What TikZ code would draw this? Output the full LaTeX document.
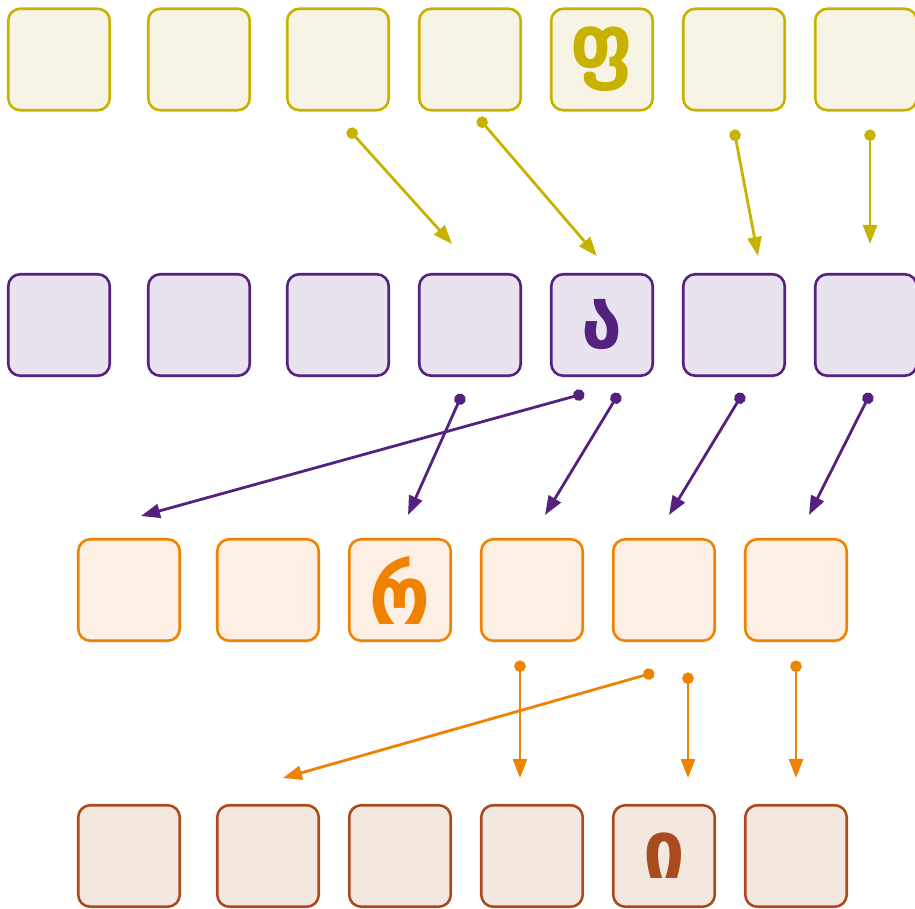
\documentclass[tikz,border=0pt]{standalone}
\usepackage{fontspec}
\newfontfamily\geofont{DejaVu Sans Condensed}
\usetikzlibrary{arrows.meta}

\definecolor{ochre}{RGB}{200,178,0}
\definecolor{ochrefill}{RGB}{247,243,229}
\definecolor{plum}{RGB}{85,33,127}
\definecolor{plumfill}{RGB}{233,227,240}
\definecolor{tangerine}{RGB}{239,130,0}
\definecolor{tangerinefill}{RGB}{253,239,227}
\definecolor{rust}{RGB}{168,76,32}
\definecolor{rustfill}{RGB}{242,232,224}

\begin{document}
\begin{tikzpicture}[x=1pt,y=-1pt,
  cell/.style={draw, line width=2.6pt, rounded corners=12pt, minimum size=101.5pt,
    inner sep=0pt},
  glyph/.style={font=\geofont\bfseries\fontsize{82}{82}\selectfont},
  ycell/.style={cell, draw=ochre, fill=ochrefill},
  pcell/.style={cell, draw=plum, fill=plumfill},
  ocell/.style={cell, draw=tangerine, fill=tangerinefill},
  rcell/.style={cell, draw=rust, fill=rustfill},
  link/.style={line width=2.8pt, shorten <=-5.5pt,
    {Circle[length=11.5pt]}-{Triangle[length=19pt,width=14pt]}},
]

  \useasboundingbox (0,0) rectangle (915,909);

  % first row
  \foreach \x [count=\i] in {59,199,338,470,602,734,866}
    \node[ycell] (y\i) at (\x,59.5) {};
  \node[glyph, text=ochre] at (y5) {ფ};

  % second row
  \foreach \x [count=\i] in {59,199,338,470,602,734,866}
    \node[pcell] (p\i) at (\x,325) {};
  \node[glyph, text=plum] at (p5) {ა};

  % third row
  \foreach \x [count=\i] in {129,268,400,532,664,796}
    \node[ocell] (o\i) at (\x,590) {};
  \node[glyph, text=tangerine] at (o3) {რ};

  % fourth row
  \foreach \x [count=\i] in {129,268,400,532,664,796}
    \node[rcell] (r\i) at (\x,856) {};
  \node[glyph, text=rust] at (r5) {ი};

  % yellow links
  \coordinate (ys1) at (352,133);  \coordinate (ye1) at (452,244);
  \coordinate (ys2) at (482,122);  \coordinate (ye2) at (597,256);
  \coordinate (ys3) at (735,135);  \coordinate (ye3) at (758,256);
  \coordinate (ys4) at (870,135);  \coordinate (ye4) at (870,244);
  \foreach \i in {1,...,4}
    \draw[link, ochre] (ys\i) -- (ye\i);

  % purple links
  \coordinate (ps1) at (579,395);  \coordinate (pe1) at (141,516);
  \coordinate (ps2) at (460,399);  \coordinate (pe2) at (408,515);
  \coordinate (ps3) at (616,398);  \coordinate (pe3) at (545,515);
  \coordinate (ps4) at (740,398);  \coordinate (pe4) at (669,515);
  \coordinate (ps5) at (868,398);  \coordinate (pe5) at (809,515);
  \foreach \i in {1,...,5}
    \draw[link, plum] (ps\i) -- (pe\i);

  % orange links
  \coordinate (os1) at (649,674);  \coordinate (oe1) at (283,778);
  \coordinate (os2) at (520,666);  \coordinate (oe2) at (520,778);
  \coordinate (os3) at (688,678);  \coordinate (oe3) at (688,778);
  \coordinate (os4) at (796,666);  \coordinate (oe4) at (796,778);
  \foreach \i in {1,...,4}
    \draw[link, tangerine] (os\i) -- (oe\i);

\end{tikzpicture}
\end{document}
